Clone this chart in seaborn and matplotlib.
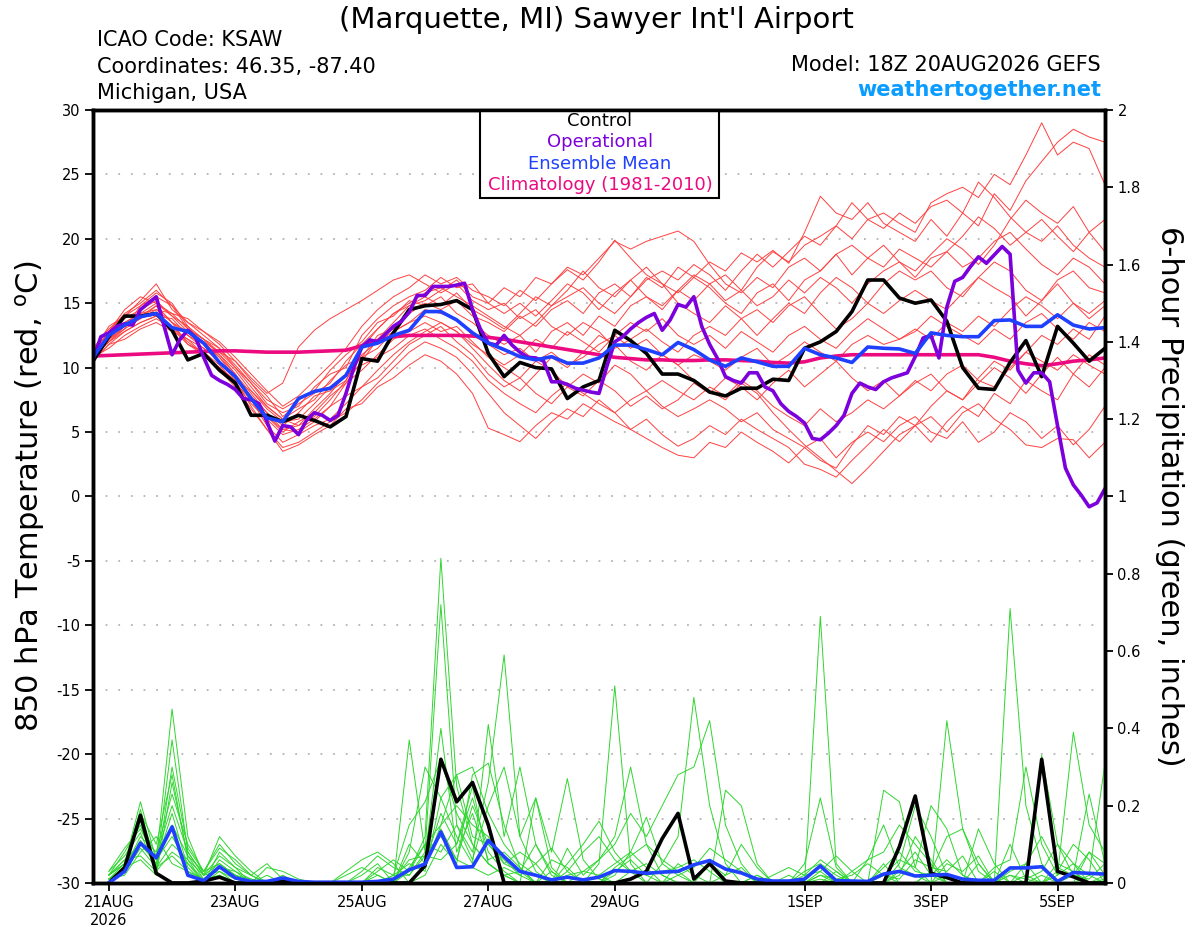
import pandas as pd
import seaborn as sns
import matplotlib.pyplot as plt
from matplotlib.patches import Rectangle

# 850 hPa temperature (deg C), 6-hourly from 18Z 20AUG to 18Z 5SEP
t01 = [11.0, 12.5, 13.8, 14.5, 15.2, 14.0, 12.8, 12.0, 11.2, 10.0, 8.5, 7.0, 6.0,
       5.5, 6.2, 7.5, 9.0, 11.5, 13.0, 14.2, 15.0, 15.8, 16.2, 15.5, 14.8, 14.0,
       13.2, 12.5, 13.5, 14.8, 15.5, 16.2, 15.0, 14.2, 15.5, 16.8, 17.5, 16.8, 18.0,
       17.2, 16.0, 17.5, 18.8, 17.8, 19.0, 20.2, 19.5, 21.0, 20.0, 21.5, 22.0, 21.2,
       20.5, 22.8, 23.5, 24.0, 23.2, 25.0, 24.2, 26.5, 29.0, 26.5, 27.5, 27.0, 24.2]
t02 = [10.8, 12.0, 13.2, 14.0, 14.8, 13.5, 12.5, 11.5, 10.5, 9.2, 7.8, 6.5, 5.2,
       5.0, 5.8, 7.0, 8.8, 10.5, 12.2, 13.5, 14.8, 15.2, 16.0, 16.8, 15.5, 15.0,
       16.2, 15.5, 17.0, 16.5, 17.8, 17.2, 18.5, 19.8, 19.2, 19.8, 20.2, 20.6, 19.8,
       18.0, 16.5, 15.8, 17.0, 16.2, 17.8, 18.5, 17.5, 18.8, 17.2, 18.5, 19.5, 18.2,
       17.5, 18.8, 20.0, 19.2, 18.0, 19.5, 21.5, 23.0, 22.0, 21.2, 22.5, 20.5, 19.0]
t03 = [11.2, 12.8, 14.2, 15.0, 16.0, 14.8, 13.0, 12.2, 11.0, 9.5, 7.5, 5.5, 4.2,
       4.8, 5.5, 6.0, 7.2, 8.5, 9.8, 11.0, 12.0, 12.8, 13.5, 12.8, 11.5, 10.2,
       9.0, 8.2, 9.5, 10.8, 10.0, 11.2, 12.5, 11.8, 10.5, 9.8, 11.0, 10.2, 9.0,
       8.2, 7.5, 8.8, 8.0, 6.5, 5.2, 4.0, 3.0, 2.0, 1.0, 2.2, 3.5, 4.8,
       5.5, 4.2, 5.8, 7.0, 6.2, 8.0, 7.2, 9.0, 8.2, 7.5, 9.5, 8.5, 10.0]
t04 = [10.5, 11.8, 12.8, 13.5, 14.0, 13.2, 12.0, 11.0, 9.8, 8.5, 6.8, 5.2, 3.8,
       4.2, 5.0, 5.8, 6.5, 7.5, 8.8, 10.0, 11.2, 12.0, 11.5, 10.8, 9.5, 8.0,
       6.5, 5.5, 4.5, 5.8, 6.8, 6.2, 7.5, 6.5, 5.2, 4.5, 3.8, 3.2, 3.0,
       4.2, 3.8, 5.0, 4.2, 3.5, 2.6, 3.8, 2.8, 2.2, 4.0, 5.5, 4.8, 6.2,
       5.5, 7.0, 8.2, 7.5, 9.2, 10.5, 9.8, 11.2, 12.5, 11.8, 13.0, 12.2, 14.0]
t05 = [11.0, 12.2, 13.5, 14.2, 14.5, 13.5, 12.8, 12.0, 10.8, 9.5, 8.0, 6.5, 5.5,
       6.5, 7.8, 8.2, 9.0, 11.0, 12.0, 12.8, 13.5, 14.5, 14.2, 13.8, 12.5, 11.8,
       11.0, 11.5, 10.5, 11.2, 10.2, 10.8, 11.8, 12.5, 11.5, 12.2, 11.0, 10.2, 11.0,
       10.5, 9.8, 10.8, 11.5, 10.2, 11.0, 12.0, 11.2, 10.5, 11.8, 12.5, 11.8, 12.2,
       13.0, 12.2, 13.5, 12.8, 14.0, 13.2, 14.5, 15.5, 14.8, 13.8, 15.0, 14.2, 15.2]
t06 = [11.5, 13.0, 14.0, 15.2, 16.5, 14.5, 13.5, 12.5, 11.5, 10.2, 8.8, 7.2, 6.5,
       7.0, 8.5, 9.5, 10.0, 12.5, 13.8, 14.8, 15.5, 16.0, 17.0, 16.2, 16.5, 15.0,
       14.2, 15.0, 14.0, 15.2, 16.5, 15.8, 14.5, 15.8, 16.8, 15.5, 14.8, 16.0, 17.2,
       16.5, 15.2, 16.0, 14.8, 15.5, 16.8, 15.8, 17.0, 16.2, 15.0, 16.5, 17.5, 18.2,
       17.0, 18.5, 19.0, 17.8, 18.5, 19.8, 20.5, 19.2, 18.0, 17.2, 18.5, 17.8, 16.5]
t07 = [10.8, 11.5, 12.5, 13.2, 13.8, 13.0, 11.8, 11.2, 10.2, 8.8, 7.2, 6.0, 4.8,
       5.2, 6.0, 7.0, 7.8, 8.5, 9.2, 10.5, 11.8, 12.5, 13.2, 12.0, 11.0, 9.5,
       8.5, 9.2, 8.0, 7.2, 8.5, 7.8, 9.0, 8.2, 7.0, 7.8, 6.8, 7.5, 8.8,
       8.0, 9.2, 8.5, 7.5, 8.8, 9.8, 8.5, 9.5, 10.5, 9.2, 8.2, 9.0, 7.8,
       8.8, 9.5, 8.2, 7.5, 8.8, 10.0, 9.2, 8.0, 9.5, 10.8, 9.5, 11.0, 10.2]
t08 = [11.2, 12.8, 14.5, 15.5, 15.0, 14.2, 13.8, 12.8, 11.8, 10.5, 9.2, 8.0, 8.8,
       11.6, 12.9, 13.8, 14.5, 15.2, 16.0, 16.8, 17.2, 16.5, 15.8, 16.5, 15.2, 14.5,
       15.0, 13.8, 14.5, 13.2, 12.5, 13.5, 12.8, 11.5, 12.2, 13.0, 12.0, 11.2, 12.5,
       13.2, 12.5, 13.8, 14.5, 13.5, 14.8, 15.5, 14.2, 13.0, 13.8, 15.0, 14.2, 15.2,
       16.0, 15.2, 14.5, 15.8, 17.0, 16.2, 15.5, 14.0, 15.2, 16.5, 15.0, 13.8, 14.8]
t09 = [10.8, 12.2, 13.0, 14.8, 15.8, 15.0, 13.2, 11.8, 11.0, 9.8, 8.2, 6.8, 5.8,
       6.0, 7.2, 8.5, 9.5, 10.8, 12.5, 13.0, 14.2, 15.0, 14.5, 15.2, 14.0, 13.5,
       12.8, 14.0, 13.2, 14.5, 15.2, 14.2, 15.8, 16.5, 15.5, 17.0, 16.2, 17.8, 17.0,
       18.2, 17.5, 18.9, 18.2, 19.1, 18.1, 20.5, 23.3, 22.0, 21.5, 22.8, 21.2, 20.5,
       19.8, 21.5, 20.2, 22.0, 21.0, 23.5, 22.2, 24.5, 26.0, 27.5, 28.5, 27.9, 27.5]
t10 = [11.0, 12.0, 13.0, 13.8, 14.5, 14.2, 13.0, 12.2, 11.5, 10.0, 8.8, 7.5, 6.8,
       7.5, 8.2, 9.8, 11.0, 12.0, 13.5, 14.0, 15.2, 14.8, 15.5, 14.2, 13.5, 12.5,
       11.8, 12.5, 11.2, 12.8, 13.5, 12.5, 14.0, 13.2, 14.8, 15.5, 14.5, 16.0, 15.2,
       16.5, 17.2, 16.0, 17.8, 19.0, 18.2, 19.5, 20.2, 21.0, 22.8, 21.5, 20.8, 22.0,
       21.2, 22.5, 23.0, 22.0, 24.4, 23.2, 21.7, 20.5, 19.8, 21.0, 19.5, 18.5, 17.8]
t11 = [10.6, 11.8, 12.2, 13.0, 13.5, 12.8, 12.2, 11.5, 10.5, 9.0, 7.0, 5.2, 3.5,
       4.0, 4.8, 5.5, 6.8, 7.2, 8.5, 9.2, 10.2, 11.0, 10.5, 9.5, 8.0, 5.3,
       4.8, 4.25, 5.5, 6.5, 6.0, 7.2, 6.5, 5.8, 5.2, 6.0, 4.8, 3.9, 4.5,
       5.5, 4.8, 6.0, 5.2, 4.5, 3.8, 2.5, 2.1, 1.5, 2.8, 4.0, 5.2, 4.25,
       5.5, 6.2, 5.0, 6.5, 7.2, 6.0, 5.2, 4.0, 3.8, 4.5, 4.4, 3.0, 4.2]
t12 = [11.3, 13.2, 14.0, 14.8, 15.5, 14.8, 13.5, 12.8, 12.0, 10.8, 9.5, 8.2, 7.0,
       7.8, 9.0, 10.2, 11.5, 13.2, 14.5, 15.5, 16.2, 17.2, 16.5, 17.0, 16.0, 15.5,
       14.8, 16.0, 15.2, 16.5, 17.6, 16.8, 18.2, 19.9, 18.5, 17.2, 16.5, 15.8, 17.0,
       16.2, 15.0, 14.2, 15.8, 16.5, 15.2, 16.8, 17.5, 18.8, 19.5, 18.5, 17.8, 19.2,
       18.5, 17.8, 19.0, 20.2, 21.7, 20.8, 19.5, 20.5, 21.5, 20.2, 19.0, 20.5, 21.5]
t13 = [10.9, 12.0, 12.8, 13.5, 14.0, 13.8, 12.5, 11.8, 10.8, 9.2, 7.5, 6.2, 5.0,
       5.8, 6.5, 7.8, 8.8, 9.8, 11.0, 12.2, 12.8, 13.5, 12.8, 13.2, 12.0, 10.8,
       10.0, 9.2, 10.5, 9.8, 8.5, 9.5, 8.8, 10.2, 9.5, 8.2, 9.0, 8.2, 7.5,
       8.5, 7.8, 9.0, 8.2, 7.0, 6.2, 5.5, 6.8, 5.8, 6.5, 7.5, 6.8, 7.8,
       9.0, 8.2, 9.5, 10.2, 9.0, 8.5, 10.0, 11.2, 10.5, 9.8, 11.0, 10.2, 9.5]
t14 = [11.1, 12.5, 13.5, 14.2, 15.0, 14.0, 13.2, 12.2, 11.2, 10.5, 9.0, 7.8, 6.2,
       7.2, 8.0, 8.8, 10.5, 11.8, 13.0, 14.2, 14.8, 15.5, 14.8, 15.8, 14.5, 13.8,
       13.0, 14.2, 15.5, 14.8, 16.0, 17.5, 16.2, 15.5, 16.8, 17.8, 16.5, 15.0, 14.2,
       13.5, 14.8, 13.8, 12.5, 13.8, 15.0, 14.2, 15.8, 17.0, 16.2, 15.0, 16.5, 17.5,
       16.8, 17.5, 16.2, 15.5, 17.0, 18.2, 17.5, 16.0, 15.2, 16.8, 17.5, 16.2, 15.8]
t15 = [10.7, 12.2, 13.2, 14.0, 14.2, 13.0, 12.2, 11.0, 10.0, 9.0, 8.2, 7.0, 6.0,
       6.8, 7.5, 9.0, 10.2, 10.8, 11.5, 12.8, 13.5, 14.0, 13.5, 12.8, 11.8, 11.0,
       10.2, 11.0, 12.2, 11.5, 12.8, 12.0, 11.2, 12.5, 13.5, 12.8, 13.8, 12.5, 11.8,
       12.5, 11.5, 12.8, 12.0, 11.2, 12.5, 13.2, 12.2, 11.5, 12.8, 13.8, 13.0, 12.2,
       12.8, 14.0, 13.2, 12.5, 11.8, 13.0, 12.2, 13.5, 14.2, 13.0, 12.2, 13.5, 12.8]
t16 = [11.0, 12.8, 13.2, 13.8, 14.8, 13.5, 11.8, 11.0, 10.0, 8.8, 7.5, 6.2, 5.2,
       5.5, 6.8, 8.0, 9.5, 10.2, 10.8, 11.5, 12.5, 13.0, 12.2, 11.5, 10.5, 9.0,
       8.0, 7.2, 6.5, 7.8, 8.8, 8.0, 7.2, 6.5, 7.5, 8.2, 7.0, 6.2, 6.8,
       7.5, 6.8, 5.8, 6.5, 5.2, 4.5, 3.8, 4.5, 3.0, 4.2, 5.0, 4.25, 5.5,
       6.2, 5.0, 4.5, 5.8, 4.2, 5.0, 6.5, 5.8, 4.5, 5.5, 4.0, 5.2, 7.0]

ctl_temp = [10.5, 12.4, 14.0, 14.0, 14.2, 12.9, 10.6, 11.1, 9.8, 8.8, 6.3, 6.3, 5.8,
            6.3, 5.9, 5.4, 6.2, 10.7, 10.5, 12.7, 14.5, 14.8, 14.9, 15.2, 14.5, 11.1,
            9.3, 10.4, 10.0, 9.9, 7.6, 8.5, 9.0, 12.9, 12.1, 11.1, 9.5, 9.5, 9.0,
            8.1, 7.8, 8.4, 8.4, 9.1, 9.0, 11.5, 12.0, 12.8, 14.35, 16.8, 16.8, 15.4,
            15.0, 15.25, 13.6, 10.0, 8.4, 8.3, 10.4, 12.1, 9.3, 13.2, 11.9, 10.5, 11.5]
mean_temp = [10.8, 12.5, 13.3, 13.95, 14.2, 13.1, 12.8, 11.9, 10.4, 9.3, 7.6, 6.1, 5.8,
             7.6, 8.15, 8.4, 9.4, 11.6, 11.9, 12.5, 12.9, 14.35, 14.35, 13.7, 12.7, 11.9,
             11.4, 10.85, 10.6, 10.85, 10.35, 10.35, 10.75, 11.75, 11.75, 11.4, 11.0, 11.95, 11.4,
             10.6, 10.1, 10.75, 10.45, 10.1, 10.1, 11.5, 11.0, 10.75, 10.4, 11.6, 11.5, 11.45,
             11.1, 12.7, 12.5, 12.4, 12.4, 13.65, 13.7, 13.2, 13.2, 14.1, 13.3, 13.0, 13.1]
clim_temp = [10.9, 10.95, 11.0, 11.05, 11.1, 11.15, 11.2, 11.25, 11.3, 11.3, 11.25, 11.2, 11.2,
             11.2, 11.25, 11.3, 11.35, 11.7, 12.1, 12.4, 12.5, 12.5, 12.5, 12.5, 12.45, 12.35,
             12.2, 12.0, 11.8, 11.6, 11.4, 11.2, 11.0, 10.8, 10.7, 10.6, 10.6, 10.55, 10.55,
             10.6, 10.6, 10.55, 10.5, 10.4, 10.35, 10.45, 10.75, 10.9, 11.0, 11.0, 11.0, 11.0,
             11.0, 11.0, 11.0, 11.0, 11.0, 10.8, 10.5, 10.3, 10.15, 10.3, 10.5, 10.6, 10.75]
# operational run comes in 3-hourly steps
oper_temp = [10.6, 12.4, 12.7, 13.2, 13.4, 13.3, 14.5, 15.0, 15.5, 13.2, 11.0, 12.2, 12.9,
             12.3, 10.8, 9.4, 9.0, 8.7, 8.3, 7.6, 7.5, 7.2, 5.8, 4.3, 5.5, 5.4,
             4.8, 5.9, 6.5, 6.3, 5.9, 6.3, 8.0, 10.0, 11.6, 12.15, 12.0, 12.6, 13.2,
             13.6, 14.3, 15.6, 15.6, 16.3, 16.3, 16.3, 16.4, 16.55, 14.5,
             13.0, 11.9, 11.75, 12.5, 11.75, 11.2, 10.8, 10.75, 10.5, 8.9, 8.9, 8.7, 8.4,
             8.25, 8.1, 8.0, 10.1, 12.0, 12.4, 13.0, 13.5, 13.9, 14.2, 12.9, 13.7,
             14.9, 14.7, 15.5, 13.2, 11.8, 10.7, 9.3, 9.0, 8.8, 9.6, 9.6, 8.5, 8.2,
             7.2, 6.6, 6.2,
             5.7, 4.5, 4.4, 4.9, 5.5, 6.3, 8.0, 8.8, 8.5, 8.3, 8.9, 9.2, 9.4,
             9.6, 10.85, 12.3, 12.5, 10.75, 14.7, 16.7, 17.0, 17.85, 18.6, 18.1, 18.75,
             19.4, 18.8, 9.8, 8.8, 9.6, 9.6, 8.9, 5.5, 2.2, 0.9, 0.1, -0.8, -0.5, 0.6]

# 6-hour precipitation (inches), periods ending 00Z 21AUG .. 18Z 5SEP
p01 = [0.01, 0.05, 0.21, 0.06, 0.45, 0.12, 0.02, 0.05, 0.02, 0, 0, 0,
       0, 0, 0, 0, 0, 0, 0, 0.03, 0.12, 0.84, 0.25, 0.10, 0.05,
       0.02, 0, 0, 0, 0, 0, 0.05, 0.51, 0.05, 0, 0, 0, 0,
       0, 0, 0, 0.02, 0, 0, 0, 0.69, 0.05, 0, 0, 0, 0,
       0, 0, 0.02, 0, 0, 0, 0.02, 0, 0, 0.05, 0.03, 0, 0.01]
p02 = [0.02, 0.08, 0.15, 0.04, 0.37, 0.08, 0.02, 0.12, 0.07, 0.03, 0, 0,
       0, 0, 0, 0, 0, 0.02, 0, 0.37, 0.08, 0.72, 0.15, 0.08, 0.26,
       0.59, 0.12, 0.03, 0, 0, 0, 0, 0, 0, 0, 0, 0.05, 0.02,
       0, 0, 0, 0, 0, 0, 0, 0, 0.03, 0, 0, 0, 0,
       0, 0.03, 0.12, 0.14, 0.03, 0, 0, 0.02, 0, 0, 0, 0, 0]
p03 = [0, 0.03, 0.18, 0.10, 0.28, 0.06, 0, 0.08, 0.04, 0.02, 0.05, 0.01,
       0, 0, 0, 0, 0, 0, 0, 0.08, 0.30, 0.22, 0.12, 0.05, 0.41,
       0.12, 0.30, 0.10, 0.03, 0, 0, 0, 0, 0, 0, 0.05, 0.12, 0.48,
       0.20, 0.05, 0, 0, 0, 0, 0, 0.02, 0, 0, 0, 0, 0.03,
       0.08, 0.02, 0, 0, 0, 0.03, 0, 0, 0.02, 0, 0, 0, 0]
p04 = [0.01, 0.04, 0.12, 0.08, 0.23, 0.10, 0.03, 0.10, 0.05, 0.02, 0, 0.02,
       0, 0, 0, 0, 0, 0.04, 0.02, 0.15, 0.21, 0.32, 0.18, 0.10, 0.05,
       0.02, 0, 0.22, 0.08, 0.27, 0.06, 0.01, 0, 0, 0, 0, 0, 0,
       0, 0.02, 0.10, 0.04, 0, 0, 0.02, 0.03, 0, 0, 0, 0.24, 0.21,
       0.04, 0, 0, 0, 0.05, 0, 0, 0, 0, 0, 0, 0, 0]
p05 = [0.02, 0.06, 0.10, 0.05, 0.18, 0.04, 0, 0.06, 0.03, 0.01, 0, 0,
       0, 0, 0, 0, 0, 0, 0, 0.04, 0.10, 0.15, 0.28, 0.30, 0.18,
       0.10, 0.05, 0.02, 0, 0.09, 0.02, 0.06, 0.12, 0.30, 0.10, 0.02, 0, 0,
       0.05, 0.02, 0.04, 0, 0, 0, 0, 0, 0, 0, 0, 0, 0.05,
       0.20, 0.12, 0.02, 0, 0, 0, 0.10, 0.01, 0, 0, 0, 0.08, 0.05]
p06 = [0.03, 0.09, 0.14, 0.06, 0.12, 0.05, 0.01, 0.04, 0.02, 0, 0, 0,
       0, 0, 0, 0, 0.03, 0.07, 0.04, 0.02, 0.08, 0.12, 0.06, 0.20, 0.10,
       0.05, 0.03, 0, 0, 0, 0.03, 0.06, 0.10, 0.18, 0.12, 0.20, 0.28, 0.30,
       0.42, 0.15, 0.05, 0, 0, 0, 0.03, 0.05, 0.02, 0, 0.06, 0.08, 0.15,
       0.10, 0.05, 0, 0, 0, 0, 0, 0, 0.33, 0.10, 0.05, 0, 0]
p07 = [0.02, 0.05, 0.16, 0.07, 0.20, 0.08, 0.02, 0.03, 0, 0, 0.04, 0.03,
       0.01, 0, 0, 0, 0, 0, 0, 0, 0.05, 0.18, 0.10, 0.22, 0.08,
       0.03, 0, 0, 0, 0.05, 0.10, 0.16, 0.08, 0.03, 0, 0, 0, 0,
       0, 0, 0, 0, 0.02, 0.04, 0.02, 0.06, 0.03, 0, 0, 0, 0,
       0, 0, 0.42, 0.14, 0.05, 0, 0, 0, 0, 0.02, 0.05, 0.02, 0]
p08 = [0.01, 0.03, 0.09, 0.04, 0.10, 0.06, 0.02, 0.07, 0.04, 0, 0, 0,
       0, 0, 0, 0, 0.02, 0.05, 0, 0, 0.02, 0.10, 0.05, 0.28, 0.31,
       0.15, 0.04, 0, 0.03, 0, 0, 0.02, 0.05, 0.08, 0.04, 0, 0, 0,
       0, 0, 0, 0, 0, 0.02, 0, 0.01, 0, 0, 0, 0.05, 0,
       0, 0, 0, 0, 0, 0, 0.71, 0.20, 0.05, 0, 0.02, 0.08, 0.02]
p09 = [0.01, 0.04, 0.11, 0.05, 0.15, 0.07, 0.03, 0.05, 0.02, 0.01, 0, 0,
       0, 0, 0, 0.03, 0.06, 0.08, 0.05, 0, 0.04, 0.15, 0.20, 0.15, 0.12,
       0.05, 0.08, 0.05, 0, 0.03, 0.08, 0.12, 0.06, 0.03, 0.02, 0, 0, 0,
       0, 0, 0, 0.02, 0, 0, 0, 0.03, 0.07, 0.03, 0, 0.02, 0.01,
       0.06, 0.04, 0.03, 0.07, 0, 0, 0.02, 0.01, 0.03, 0.10, 0.02, 0.23, 0.05]
p10 = [0.02, 0.06, 0.07, 0.03, 0.08, 0.05, 0, 0.02, 0, 0, 0, 0,
       0, 0, 0, 0, 0, 0.03, 0.06, 0.03, 0.10, 0.08, 0.15, 0.06, 0.20,
       0.30, 0.12, 0.22, 0.04, 0, 0, 0, 0, 0.03, 0.05, 0.02, 0, 0,
       0, 0, 0, 0, 0, 0, 0, 0, 0, 0, 0, 0.04, 0.08,
       0.03, 0.02, 0.06, 0.02, 0, 0.04, 0.06, 0.30, 0.10, 0.02, 0.39, 0.15, 0.08]
p11 = [0.01, 0.02, 0.08, 0.12, 0.05, 0.03, 0.01, 0.02, 0, 0, 0, 0,
       0, 0, 0, 0, 0, 0, 0.01, 0.06, 0.07, 0.40, 0.08, 0.18, 0.06,
       0.08, 0.04, 0, 0.06, 0.04, 0, 0, 0.04, 0.07, 0.10, 0.06, 0.03, 0,
       0, 0.24, 0.20, 0.05, 0, 0, 0.05, 0.22, 0.04, 0, 0, 0, 0.02,
       0.12, 0.06, 0, 0, 0, 0, 0, 0, 0, 0, 0, 0.02, 0.31]
p12 = [0.03, 0.07, 0.13, 0.03, 0.30, 0.09, 0.03, 0.09, 0.06, 0.02, 0, 0,
       0, 0, 0, 0, 0, 0, 0.02, 0.05, 0.03, 0.22, 0.28, 0.12, 0.10,
       0.06, 0.02, 0, 0, 0.02, 0.03, 0.02, 0, 0, 0, 0, 0.02, 0.04,
       0.09, 0.06, 0.03, 0, 0, 0, 0, 0, 0, 0, 0, 0.02, 0.06,
       0.04, 0.20, 0.14, 0.02, 0, 0, 0, 0.05, 0.12, 0.04, 0.02, 0.01, 0.05]
p13 = [0.02, 0.05, 0.19, 0.04, 0.07, 0.03, 0, 0.03, 0.01, 0, 0.02, 0,
       0, 0, 0, 0.02, 0.04, 0.02, 0, 0.10, 0.05, 0.14, 0.06, 0.04, 0.02,
       0.04, 0.02, 0.05, 0.09, 0.03, 0, 0, 0.02, 0.08, 0.17, 0.05, 0.02, 0,
       0, 0, 0, 0, 0, 0, 0, 0.02, 0.01, 0.02, 0.05, 0.02, 0,
       0, 0.03, 0, 0, 0.14, 0.05, 0, 0, 0, 0, 0.03, 0, 0.02]
p14 = [0, 0.04, 0.06, 0.02, 0.26, 0.07, 0.01, 0.04, 0.03, 0, 0, 0,
       0, 0, 0, 0, 0, 0, 0.02, 0.02, 0.07, 0.06, 0.10, 0.25, 0.05,
       0.02, 0.03, 0.10, 0.02, 0, 0, 0, 0.03, 0.06, 0.02, 0.03, 0.04, 0.06,
       0.03, 0, 0, 0, 0, 0, 0, 0, 0, 0.03, 0.06, 0.15, 0.04,
       0.02, 0, 0.05, 0.03, 0.07, 0, 0.03, 0.05, 0, 0.03, 0.10, 0.06, 0]

ctl_prcp = [0, 0.04, 0.175, 0.025, 0, 0, 0.005, 0.015, 0, 0, 0, 0.005,
            0, 0, 0, 0, 0, 0, 0, 0, 0.045, 0.32, 0.21, 0.26, 0.15,
            0, 0, 0, 0, 0, 0, 0, 0, 0.01, 0.03, 0.115, 0.18, 0.01,
            0.05, 0.005, 0, 0, 0, 0, 0, 0, 0, 0, 0, 0, 0.094,
            0.225, 0.025, 0.014, 0, 0, 0, 0, 0, 0.32, 0.03, 0.016, 0, 0]
mean_prcp = [0, 0.03, 0.103, 0.065, 0.145, 0.02, 0.006, 0.042, 0.013, 0.004, 0.004, 0.013,
             0.004, 0.002, 0.002, 0.002, 0.002, 0.004, 0.01, 0.034, 0.049, 0.132, 0.04, 0.042, 0.11,
             0.068, 0.03, 0.02, 0.008, 0.015, 0.008, 0.015, 0.032, 0.03, 0.025, 0.028, 0.03, 0.047,
             0.058, 0.036, 0.026, 0.01, 0.005, 0.005, 0.01, 0.044, 0.006, 0.005, 0.004, 0.023, 0.03,
             0.018, 0.02, 0.022, 0.01, 0.007, 0.007, 0.039, 0.039, 0.042, 0.004, 0.027, 0.025, 0.023]

tick_days = ["2026-08-21", "2026-08-23", "2026-08-25", "2026-08-27",
             "2026-08-29", "2026-09-01", "2026-09-03", "2026-09-05"]
tick_names = ["21AUG\n2026", "23AUG", "25AUG", "27AUG", "29AUG", "1SEP", "3SEP", "5SEP"]
temp_ticks = [-30, -25, -20, -15, -10, -5, 0, 5, 10, 15, 20, 25, 30]
prcp_ticks = [0, 0.2, 0.4, 0.6, 0.8, 1.0, 1.2, 1.4, 1.6, 1.8, 2.0]
prcp_names = ["0", "0.2", "0.4", "0.6", "0.8", "1", "1.2", "1.4", "1.6", "1.8", "2"]
legend_names = ["Control", "Operational", "Ensemble Mean", "Climatology (1981-2010)"]

t_members = [t01, t02, t03, t04, t05, t06, t07, t08, t09, t10, t11, t12, t13, t14, t15, t16]
p_members = [p01, p02, p03, p04, p05, p06, p07, p08, p09, p10, p11, p12, p13, p14]

times6 = pd.date_range("2026-08-20 18:00", periods=65, freq="6h")
times3 = pd.date_range("2026-08-20 18:00", periods=129, freq="3h")
ptimes = times6[1:]

temp_df = pd.concat([pd.DataFrame({"time": times6, "temp": m, "member": k})
                     for k, m in enumerate(t_members)], ignore_index=True)
prcp_df = pd.concat([pd.DataFrame({"time": ptimes, "prcp": m, "member": k})
                     for k, m in enumerate(p_members)], ignore_index=True)

RED = "#ff4040"
GREEN = "#2fd62f"
PURPLE = "#7c00dc"
BLUE = "#1f40ff"
PINK = "#ec0a80"

sns.set_theme(style="ticks")
plt.rcParams["font.family"] = ["DejaVu Sans"]
plt.rcParams["text.color"] = "black"
plt.rcParams["axes.labelcolor"] = "black"
plt.rcParams["xtick.color"] = "black"
plt.rcParams["ytick.color"] = "black"

fig = plt.figure(figsize=(12, 9.27), dpi=100)
ax = fig.add_axes([0.0775, 0.0475, 0.8433, 0.8339])
ax2 = ax.twinx()

# temperature plume
sns.lineplot(data=temp_df, x="time", y="temp", units="member", estimator=None,
             color=RED, linewidth=0.7, ax=ax)
sns.lineplot(x=times6, y=clim_temp, color=PINK, linewidth=2.6, ax=ax)
sns.lineplot(x=times6, y=ctl_temp, color="black", linewidth=2.6, ax=ax)
sns.lineplot(x=times3, y=oper_temp, color=PURPLE, linewidth=2.6, ax=ax)
sns.lineplot(x=times6, y=mean_temp, color=BLUE, linewidth=2.6, ax=ax)

# precipitation plume on right axis
sns.lineplot(data=prcp_df, x="time", y="prcp", units="member", estimator=None,
             color=GREEN, linewidth=0.7, ax=ax2)
sns.lineplot(x=ptimes, y=ctl_prcp, color="black", linewidth=2.6, ax=ax2)
sns.lineplot(x=ptimes, y=mean_prcp, color=BLUE, linewidth=2.6, ax=ax2)

ax.set_xlim(times6[0], times6[-1])
ax.set_ylim(-30, 30)
ax2.set_ylim(0, 2)
ax.set_yticks(temp_ticks)
ax.set_yticklabels([str(t) for t in temp_ticks])
ax2.set_yticks(prcp_ticks)
ax2.set_yticklabels(prcp_names)
ax.set_xticks(pd.to_datetime(tick_days))
ax.set_xticklabels(tick_names)

ax.set_axisbelow(True)
ax.yaxis.grid(True, color="#b4b4b4", linestyle=(0, (1, 6)), linewidth=1.3)
ax.xaxis.grid(False)

ax.tick_params(axis="both", direction="out", length=6, width=1.3, labelsize=10.5, pad=3)
ax2.tick_params(axis="y", direction="out", length=6, width=1.3, labelsize=10.5, pad=3)
for a in (ax, ax2):
    for sp in a.spines.values():
        sp.set_linewidth(2.5)
        sp.set_color("black")

ax.set_xlabel("")
ax.set_ylabel("850 hPa Temperature (red, $^{\\rm o}$C)", fontsize=22, va="center")
ax.yaxis.set_label_coords(-0.062, 0.5)
ax2.set_ylabel("6-hour Precipitation (green, inches)", fontsize=22, rotation=270, va="center")
ax2.yaxis.set_label_coords(1.064, 0.5)

# legend box
box = Rectangle((0.3824, 0.8862), 0.2362, 0.1138, transform=ax.transAxes,
                facecolor="white", edgecolor="black", linewidth=1.5, zorder=5, clip_on=False)
ax.add_patch(box)
for k, (name, col) in enumerate(zip(legend_names, ["black", PURPLE, BLUE, PINK])):
    ax.text(0.501, 0.9858 - k * 0.0276, name, color=col, fontsize=13,
            ha="center", va="center", transform=ax.transAxes, zorder=6)

# header
fig.text(596 / 1200, 1 - 28 / 927, "(Marquette, MI) Sawyer Int'l Airport",
         ha="center", va="baseline", fontsize=21)
fig.text(97 / 1200, 1 - 46 / 927, "ICAO Code: KSAW", fontsize=15, va="baseline")
fig.text(97 / 1200, 1 - 73 / 927, "Coordinates: 46.35, -87.40", fontsize=15, va="baseline")
fig.text(97 / 1200, 1 - 99 / 927, "Michigan, USA", fontsize=15, va="baseline")
fig.text(1101 / 1200, 1 - 71 / 927, "Model: 18Z 20AUG2026 GEFS", fontsize=15,
         ha="right", va="baseline")
fig.text(1101 / 1200, 1 - 96 / 927, "weathertogether.net", fontsize=15, fontweight="bold",
         color="#0a9cff", ha="right", va="baseline")

fig.savefig("out.png", dpi=100)
plt.close(fig)
